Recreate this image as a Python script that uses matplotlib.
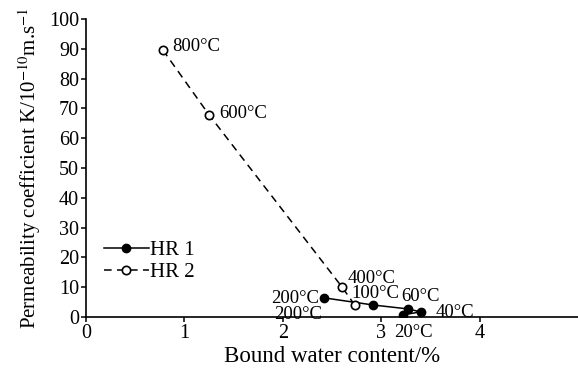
import matplotlib.pyplot as plt

plt.rcParams['font.family'] = ['Liberation Serif', 'DejaVu Serif']
plt.rcParams['mathtext.fontset'] = 'stix'

# HR 1 series (filled markers)
hr1_temps = ['20°C', '40°C', '60°C', '100°C', '200°C']
hr1_water = [3.22, 3.40, 3.27, 2.92, 2.42]
hr1_perm = [0.7, 1.7, 2.7, 4.0, 6.4]

# HR 2 series (open markers)
hr2_temps = ['800°C', '600°C', '400°C', '200°C']
hr2_water = [0.78, 1.25, 2.60, 2.73]
hr2_perm = [89.6, 67.8, 10.1, 4.0]

fig = plt.figure(figsize=(5.78, 3.72), dpi=100)
ax = fig.add_axes([0.149, 0.148, 0.851, 0.801])

ax.plot(hr1_water, hr1_perm, '-', color='black', lw=1.1, marker='o',
        markersize=6, markerfacecolor='black', label='HR 1', zorder=3)
ax.plot(hr2_water, hr2_perm, color='black', lw=1.1, linestyle=(0, (5, 3.5)),
        marker='o', markersize=6, markerfacecolor='white',
        markeredgewidth=1.2, label='HR 2', zorder=4)

fs = 13.5
# label offsets in points
hr1_off = {'20°C': (-6, -16), '40°C': (11, -4), '60°C': (-5, 6),
           '100°C': (-16, 5), '200°C': (-38, -4)}
hr2_off = {'800°C': (7, -1), '600°C': (7, -2), '400°C': (4, 3),
           '200°C': (-58, -10)}
for t, x, y in zip(hr1_temps, hr1_water, hr1_perm):
    ax.annotate(t, (x, y), xytext=hr1_off[t], textcoords='offset points',
                fontsize=fs)
for t, x, y in zip(hr2_temps, hr2_water, hr2_perm):
    ax.annotate(t, (x, y), xytext=hr2_off[t], textcoords='offset points',
                fontsize=fs)

ax.set_xlim(0, 5)
ax.set_ylim(0, 100)
ax.set_xticks([0, 1, 2, 3, 4])
ax.set_yticks(range(0, 101, 10))
ax.spines['top'].set_visible(False)
ax.spines['right'].set_visible(False)
ax.tick_params(direction='out', length=3.5, labelsize=14.5, width=1.1, pad=1.5)
for s in ('left', 'bottom'):
    ax.spines[s].set_linewidth(1.2)

ax.set_xlabel('Bound water content/%', fontsize=16.5, labelpad=2)
ax.set_ylabel('Permeability coefficient K/10$^{-10}$m.s$^{-1}$',
              fontsize=15, labelpad=4)

ax.legend(loc='lower left', bbox_to_anchor=(0.01, 0.075), frameon=False,
          fontsize=15, handlelength=2.2, handletextpad=0.05,
          labelspacing=0.1, borderaxespad=0.2)

fig.savefig('out.png', dpi=100)
